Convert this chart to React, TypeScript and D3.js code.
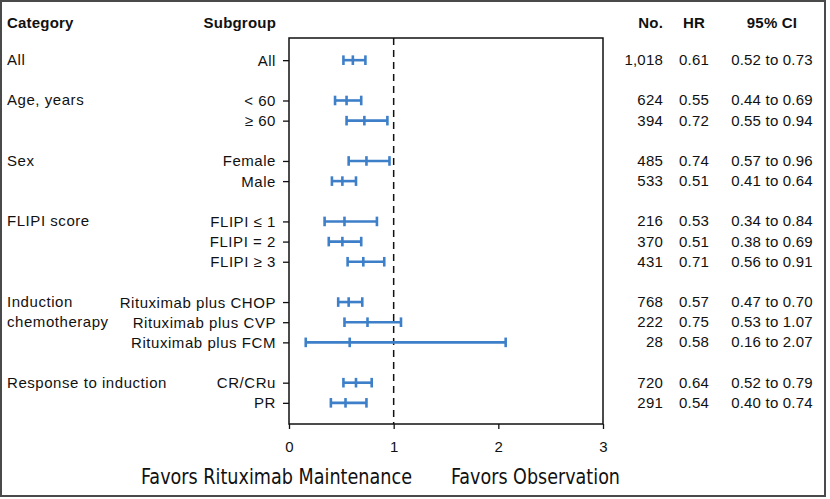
import * as d3 from "d3";
import React, { useEffect, useRef } from "react";

const subgroups = [
  "All",
  "< 60",
  "≥ 60",
  "Female",
  "Male",
  "FLIPI ≤ 1",
  "FLIPI = 2",
  "FLIPI ≥ 3",
  "Rituximab plus CHOP",
  "Rituximab plus CVP",
  "Rituximab plus FCM",
  "CR/CRu",
  "PR",
];
const rowIndex = [0, 2, 3, 5, 6, 8, 9, 10, 12, 13, 14, 16, 17];
const counts = [1018, 624, 394, 485, 533, 216, 370, 431, 768, 222, 28, 720, 291];
const hr = [0.61, 0.55, 0.72, 0.74, 0.51, 0.53, 0.51, 0.71, 0.57, 0.75, 0.58, 0.64, 0.54];
const ciLow = [0.52, 0.44, 0.55, 0.57, 0.41, 0.34, 0.38, 0.56, 0.47, 0.53, 0.16, 0.52, 0.4];
const ciHigh = [0.73, 0.69, 0.94, 0.96, 0.64, 0.84, 0.69, 0.91, 0.7, 1.07, 2.07, 0.79, 0.74];

const categoryLabels = [["All"], ["Age, years"], ["Sex"], ["FLIPI score"], ["Induction", "chemotherapy"], ["Response to induction"]];
const categoryRows = [0, 2, 5, 8, 12, 16];

const xTicks = [0, 1, 2, 3];

const FONT = "'Liberation Sans', Arial, Helvetica, sans-serif";
const NARROW = "'Liberation Sans Narrow', 'DejaVu Sans Condensed', 'Liberation Sans', sans-serif";
const BLUE = "#3d7fc8";

function App() {
  const svgRef = useRef<SVGSVGElement>(null);

  useEffect(() => {
    const svg = d3.select(svgRef.current);
    svg.selectAll("*").remove();

    const plot = { left: 289, right: 603, top: 38, bottom: 424 };

    const x = d3.scaleLinear().domain([0, 3]).range([plot.left, plot.right]);
    const y = d3.scaleLinear().domain([-1.1, 18.05]).range([plot.top, plot.bottom]);

    // outer frame
    svg.append("rect")
      .attr("x", 1).attr("y", 1)
      .attr("width", 824).attr("height", 495)
      .attr("fill", "white")
      .attr("stroke", "#4a4a4a")
      .attr("stroke-width", 2);

    const text = (g: any, spacing = 0.2) =>
      g.attr("font-family", FONT).attr("font-size", 15).attr("letter-spacing", spacing).attr("fill", "#111");
    const label = (g: any) => text(g, 0.55);

    // headers
    const headerY = 28;
    const headers = [
      { t: "Category", x: 7, a: "start" },
      { t: "Subgroup", x: 276, a: "end" },
      { t: "No.", x: 663, a: "end" },
      { t: "HR", x: 694, a: "middle" },
      { t: "95% CI", x: 772, a: "middle" },
    ];
    svg.append("g").selectAll("text").data(headers).join("text")
      .call(text)
      .attr("font-weight", "bold")
      .attr("x", (d) => d.x)
      .attr("y", headerY)
      .attr("text-anchor", (d) => d.a)
      .text((d) => d.t);

    // category labels
    const cat = svg.append("g").selectAll("text").data(categoryLabels).join("text")
      .call(label)
      .attr("x", 7)
      .attr("y", (d, i) => y(categoryRows[i]) + 5);
    cat.selectAll("tspan").data((d) => d).join("tspan")
      .attr("x", 7)
      .attr("dy", (d, i) => (i === 0 ? 0 : y(1) - y(0)))
      .text((d) => d);

    // left axis with subgroup labels
    const yAxis = svg.append("g")
      .attr("transform", `translate(${plot.left},0)`)
      .call(
        d3.axisLeft(y)
          .tickValues(rowIndex)
          .tickFormat((d, i) => subgroups[i])
          .tickSize(6)
          .tickSizeOuter(0)
          .tickPadding(7)
      );
    yAxis.select(".domain").remove();
    yAxis.selectAll("line").attr("stroke", "#111").attr("stroke-width", 1.3);
    yAxis.selectAll("text").call(label).attr("dy", null).attr("y", 5);

    // bottom axis
    const xAxis = svg.append("g")
      .attr("transform", `translate(0,${plot.bottom})`)
      .call(d3.axisBottom(x).tickValues(xTicks).tickFormat(d3.format("d")).tickSize(5).tickSizeOuter(0).tickPadding(12));
    xAxis.select(".domain").remove();
    xAxis.selectAll("line").attr("stroke", "#111").attr("stroke-width", 1.3);
    xAxis.selectAll("text").call(text);

    // plot frame
    svg.append("rect")
      .attr("x", plot.left).attr("y", plot.top)
      .attr("width", plot.right - plot.left).attr("height", plot.bottom - plot.top)
      .attr("fill", "none")
      .attr("stroke", "#111")
      .attr("stroke-width", 1.5);

    // reference line at HR = 1
    svg.append("line")
      .attr("x1", x(1)).attr("x2", x(1))
      .attr("y1", plot.top).attr("y2", plot.bottom)
      .attr("stroke", "#111")
      .attr("stroke-width", 1.5)
      .attr("stroke-dasharray", "7,5");

    // error bars
    const cap = 4.8;
    const bars = svg.append("g")
      .attr("stroke", BLUE)
      .attr("stroke-width", 2.6)
      .selectAll("g").data(subgroups).join("g");
    bars.append("line")
      .attr("x1", (d, i) => x(ciLow[i])).attr("x2", (d, i) => x(ciHigh[i]))
      .attr("y1", (d, i) => y(rowIndex[i])).attr("y2", (d, i) => y(rowIndex[i]));
    [ciLow, hr, ciHigh].forEach((arr) => {
      bars.append("line")
        .attr("x1", (d, i) => x(arr[i])).attr("x2", (d, i) => x(arr[i]))
        .attr("y1", (d, i) => y(rowIndex[i]) - cap).attr("y2", (d, i) => y(rowIndex[i]) + cap);
    });

    // table columns
    const fmtCount = d3.format(",");
    const fmt2 = d3.format(".2f");
    const table = svg.append("g").selectAll("g").data(subgroups).join("g")
      .attr("transform", (d, i) => `translate(0,${y(rowIndex[i]) + 5})`);
    table.append("text").call(text).attr("x", 663).attr("text-anchor", "end")
      .text((d, i) => fmtCount(counts[i]));
    table.append("text").call(text).attr("x", 694).attr("text-anchor", "middle")
      .text((d, i) => fmt2(hr[i]));
    table.append("text").call(text).attr("x", 772).attr("text-anchor", "middle")
      .text((d, i) => `${fmt2(ciLow[i])} to ${fmt2(ciHigh[i])}`);

    // favors labels
    svg.append("text")
      .attr("font-family", NARROW).attr("font-size", 21.5).attr("fill", "#111")
      .attr("x", 141).attr("y", 483.5)
      .attr("textLength", 271).attr("lengthAdjust", "spacingAndGlyphs")
      .text("Favors Rituximab Maintenance");
    svg.append("text")
      .attr("font-family", NARROW).attr("font-size", 21.5).attr("fill", "#111")
      .attr("x", 451).attr("y", 483.5)
      .attr("textLength", 169).attr("lengthAdjust", "spacingAndGlyphs")
      .text("Favors Observation");
  }, []);

  return (
    <svg
      ref={svgRef}
      width={830}
      height={499}
      style={{ position: "absolute", left: 0, top: 0, display: "block" }}
    ></svg>
  );
}

export default App;
